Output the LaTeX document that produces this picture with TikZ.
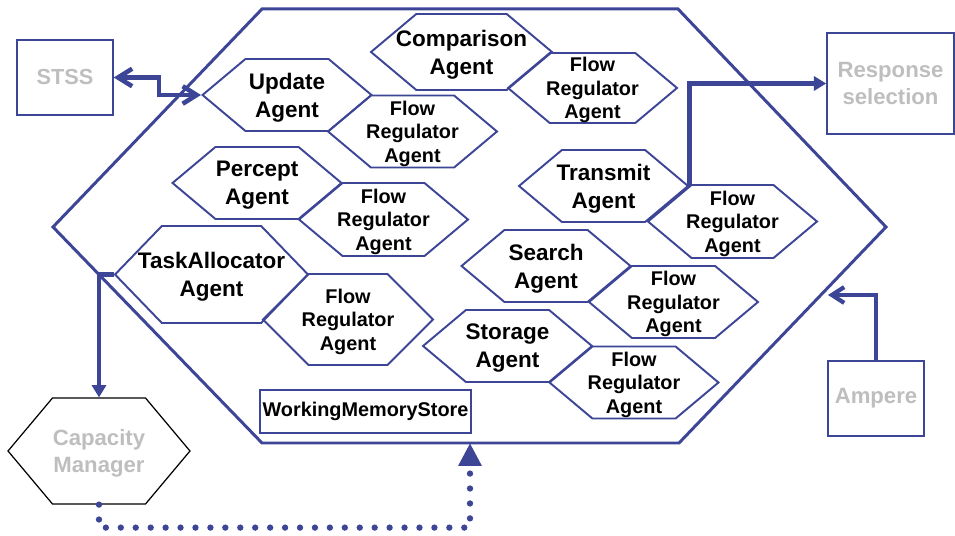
\documentclass[tikz,border=0pt]{standalone}
\usepackage{fontspec}
\setmainfont{Liberation Sans}
\usepackage{xcolor}
\usepackage{tikz}
\usetikzlibrary{arrows.meta, shapes.symbols}
\definecolor{hexblue}{HTML}{3C4596}
\definecolor{labelgray}{HTML}{BEBEBE}

\tikzset{
  agent/.style={signal, signal to=east and west, signal pointer angle=80,
    draw=hexblue, line width=1.1pt, inner ysep=0pt, inner xsep=-0.6cm, align=center,
    minimum width=3.38cm, minimum height=1.44cm, text depth=0pt,
    font=\fontsize{12.8}{15.9}\selectfont\bfseries},
  flowreg/.style={agent, inner xsep=-0.3cm, font=\fontsize{11.3}{13.4}\selectfont\bfseries},
  outbox/.style={draw=hexblue, line width=0.9pt, text=labelgray, align=center,
    inner sep=0pt, font=\fontsize{12.6}{15.3}\selectfont\bfseries},
  fatarrow/.style={hexblue, line width=2.8pt, -{Triangle[length=7pt,width=8pt]}},
  barbarrow/.style={hexblue, line width=2.6pt, {Straight Barb[length=8pt,width=10pt]}-{Straight Barb[length=8pt,width=10pt]}},
  dotarrow/.style={hexblue, line width=3.6pt, line cap=round,
    dash pattern=on 0pt off 8.5pt, -{Triangle[length=13pt,width=12.5pt]}}
}

\begin{document}
\begin{tikzpicture}[x=0.02cm, y=-0.02cm]
  \useasboundingbox (0,0) rectangle (955,536);

  % working memory frame
  \draw[hexblue, line width=1.7pt] (262,9) -- (678,9) -- (886,227) -- (679,443)
    -- (262,443) -- (53,227) -- cycle;
  \coordinate (ampin) at (828,295);
  \coordinate (memin) at (470,443);

  % agents and their flow regulators
  \node[agent, minimum width=3.62cm, minimum height=1.52cm] (comparison) at (461.5,52) {Comparison\\Agent};
  \node[flowreg, minimum height=1.40cm] (comparisonfr) at (592.5,88) {Flow\\Regulator\\Agent};
  \node[agent] (update) at (287,95) {Update\\Agent};
  \node[flowreg] (updatefr) at (412.5,131.5) {Flow\\Regulator\\Agent};
  \node[agent] (percept) at (257,183) {Percept\\Agent};
  \node[flowreg, minimum height=1.46cm] (perceptfr) at (383.5,219.5) {Flow\\Regulator\\Agent};
  \node[agent, minimum width=3.86cm, minimum height=1.94cm, signal pointer angle=92] (taskalloc) at (211.5,274.5) {TaskAllocator\\Agent};
  \node[flowreg, minimum width=3.40cm, minimum height=1.82cm, signal pointer angle=90] (taskallocfr) at (348,319.5) {Flow\\Regulator\\Agent};
  \node[agent] (transmit) at (603.5,186) {Transmit\\Agent};
  \node[flowreg, minimum height=1.46cm] (transmitfr) at (732.5,221.5) {Flow\\Regulator\\Agent};
  \node[agent] (search) at (546,266) {Search\\Agent};
  \node[flowreg] (searchfr) at (673.5,302) {Flow\\Regulator\\Agent};
  \node[agent] (storage) at (507.5,346) {Storage\\Agent};
  \node[flowreg] (storagefr) at (634,382.5) {Flow\\Regulator\\Agent};

  \node[draw=hexblue, line width=0.9pt, inner sep=0pt, minimum width=4.22cm, minimum height=0.86cm,
    font=\fontsize{11.3}{13.4}\selectfont\bfseries] (wmstore) at (365.5,411.5) {WorkingMemoryStore};

  % outside modules
  \node[outbox, minimum width=1.92cm, minimum height=1.50cm, font=\fontsize{12.4}{15}\selectfont\bfseries] (stss) at (65,77.5) {STSS};
  \node[outbox, minimum width=2.54cm, minimum height=2.02cm] (response) at (890.5,83.5) {Response\\selection};
  \node[outbox, minimum width=1.92cm, minimum height=1.50cm] (ampere) at (876,398.5) {Ampere};
  \node[agent, draw=black, line width=0.7pt, text=labelgray, minimum width=3.64cm, minimum height=2.12cm,
    signal pointer angle=100, font=\fontsize{12.6}{15.3}\selectfont\bfseries] (capmgr) at (99,451) {Capacity\\Manager};

  % connectors
  \draw[barbarrow] (stss.east) -- ++(45,0) |- (update.west);
  \draw[fatarrow] (transmit.east) |- (response.west);
  \draw[hexblue, line width=2.4pt, -{Straight Barb[length=7pt,width=9pt]}] (ampere.north) |- (ampin);
  \draw[fatarrow] (taskalloc.west) -| (capmgr.north);
  \draw[dotarrow] (capmgr.south) -- ++(0,23) -| (memin);
\end{tikzpicture}
\end{document}
